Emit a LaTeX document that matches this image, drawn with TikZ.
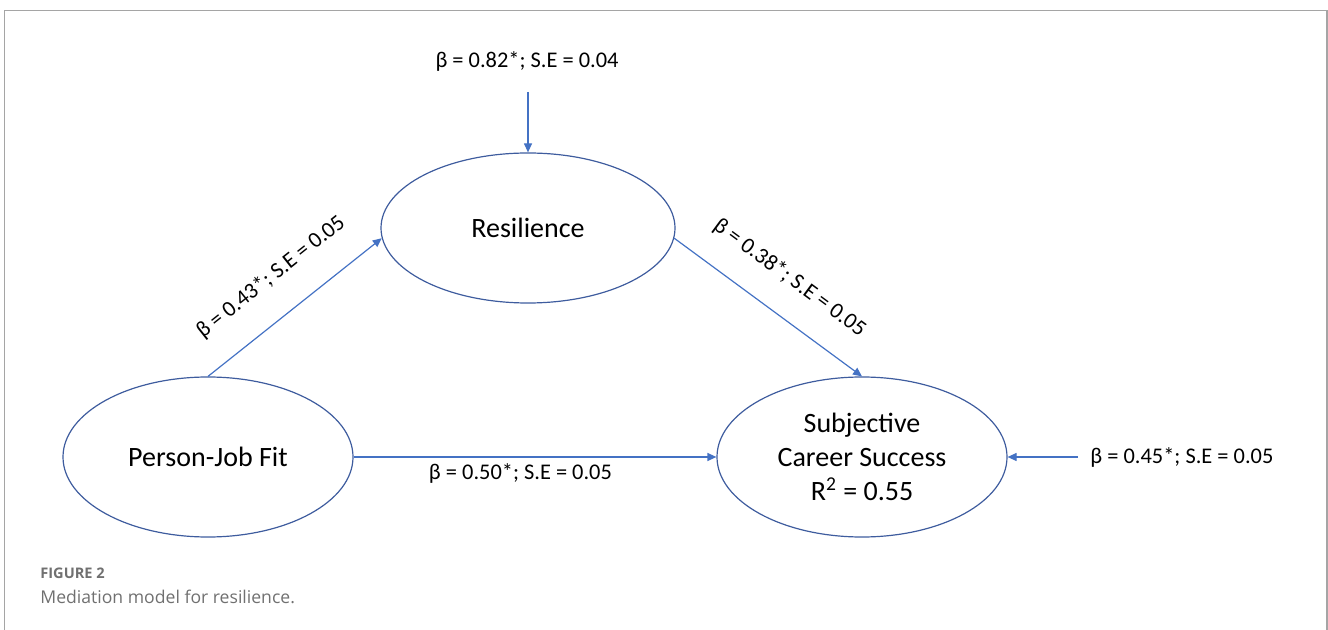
\documentclass[tikz,border=0pt]{standalone}
\usepackage{fontspec}
\setmainfont{Carlito}
\newfontfamily\capfont{Open Sans}
\usetikzlibrary{shapes.geometric, arrows.meta}

\definecolor{arrowblue}{RGB}{68,114,196}
\definecolor{ringblue}{RGB}{62,92,158}
\definecolor{capgray}{RGB}{112,112,112}
\definecolor{framegray}{RGB}{165,165,165}

\begin{document}
\begin{tikzpicture}[x=0.5pt, y=-0.5pt, >={Triangle[length=4.5pt, width=4pt]},
		latent/.style={ellipse, draw=ringblue, line width=0.6pt, minimum width=145pt, minimum height=80pt, align=center, inner sep=0pt, font=\fontsize{14}{17}\selectfont},
		link/.style={->, color=arrowblue, line width=0.6pt},
		coef/.style={inner sep=0pt, text=black, font=\fontsize{11.2}{13}\selectfont}]
		\useasboundingbox (0,0) rectangle (1328,630);

		% Cadre de la figure
		\draw[framegray, line width=0.75pt] (4.5,640) |- (1327,10.5) -- (1327,640);

		% Variables latentes
		\node[latent, minimum width=147pt, minimum height=75pt] (res) at (528,228) {Resilience};
		\node[latent] (pjf) at (208,457) {Person-Job Fit};
		\node[latent] (scs) at (862,457) {Subjective\\Career Success\\R\textsuperscript{2} = 0.55};

		% Termes d'erreur
		\node[coef] (errreslab) at (527,61) {β = 0.82*; S.E = 0.04};
		\coordinate (errres) at (528,92);
		\node[coef, anchor=west] (errscslab) at (1090,457) {β = 0.45*; S.E = 0.05};
		\coordinate (errscs) at (1078,457);

		% Chemins
		\draw[link] (pjf.north) -- (res.184) node[coef, midway, sloped, above=14pt] {β = 0.43*; S.E = 0.05};
		\draw[link] (res.356) -- (scs.north) node[coef, midway, sloped, above=13pt] {β = 0.38*; S.E = 0.05};
		\draw[link] (pjf.east) -- (scs.west) node[coef, pos=0.46, below=3pt] {β = 0.50*; S.E = 0.05};
		\draw[link] (errres) -- (res.north);
		\draw[link] (errscs) -- (scs.east);

		% Légende
		\node[anchor=west, inner sep=0pt, text=capgray, font=\capfont\bfseries\fontsize{7.3}{9}\selectfont] (figlab) at (40,573) {FIGURE 2};
		\node[anchor=west, inner sep=0pt, text=capgray, font=\capfont\fontsize{8.8}{10}\selectfont] (figcap) at (40,597) {Mediation model for resilience.};
	\end{tikzpicture}
\end{document}
